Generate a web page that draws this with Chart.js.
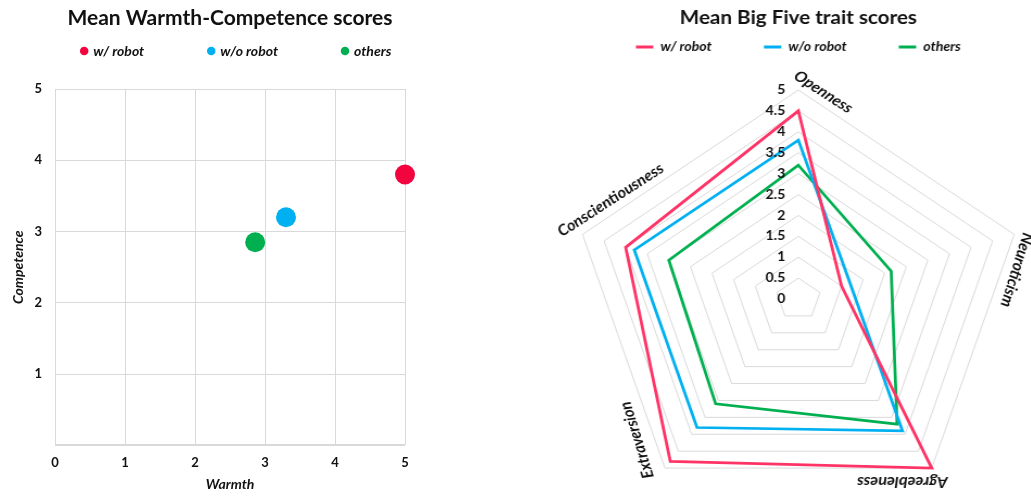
<!DOCTYPE html>
<html><head><meta charset="utf-8">
<script src="https://cdn.jsdelivr.net/npm/chart.js@4.4.1/dist/chart.umd.min.js"></script>
<style>
html,body{margin:0;padding:0;background:#fff;overflow:hidden;width:1031px;height:496px;position:relative}
#sc{position:absolute;left:0;top:0}
#rw{position:absolute;left:553.6px;top:0;width:450px;height:509px;transform:scaleX(1.086);transform-origin:0 0}
</style></head><body>
<canvas id="sc" width="470" height="496"></canvas>
<div id="rw"><canvas id="rd" width="450" height="509"></canvas></div>
<script>
// ---- data ----
const scatterSeries = ['w/ robot', 'w/o robot', 'others'];
const warmth = [5.0, 3.3, 2.86];
const competence = [3.8, 3.2, 2.85];
const scatterTicks = [0, 1, 2, 3, 4, 5];

const traits = ['Openness', 'Neuroticism', 'Agreebleness', 'Extraversion', 'Conscientiousness'];
const withRobot = [4.5, 1.0, 5.0, 4.8, 4.0];
const withoutRobot = [3.8, 1.2, 3.9, 3.8, 3.8];
const othersScores = [3.2, 2.15, 3.7, 3.1, 3.0];
const radarTicks = [0, 0.5, 1, 1.5, 2, 2.5, 3, 3.5, 4, 4.5, 5];

// ---- styles ----
const TXT = '#111111';
const GRID = '#d9d9d9';
const scatterColors = ['#F2053F', '#00B0F0', '#00B050'];
const radarColors = ['#FF3366', '#00B0F0', '#00B050'];
Chart.defaults.font.family = 'Lato, "Noto Sans", sans-serif';
Chart.defaults.color = TXT;

const shiftLegend = {
  id: 'shiftLegend',
  afterLayout(chart, args, opts) {
    const lg = chart.legend;
    if (!lg || opts.centerY == null) return;
    const lo = lg.options.labels;
    const h = lg.height;
    const top = opts.centerY - lo.padding - lo.font.size / 2;
    lg.top = top; lg.bottom = top + h;
  }
};

const radarText = {
  id: 'radarText',
  afterDraw(chart, args, opts) {
    const s = chart.scales.r, ctx = chart.ctx;
    ctx.save();
    ctx.fillStyle = TXT;
    ctx.font = 'bold 13px Lato';
    ctx.textAlign = 'right';
    ctx.textBaseline = 'middle';
    s.ticks.forEach(t => {
      const p = s.getPointPositionForValue(0, t.value);
      ctx.fillText(t.label, p.x - opts.tickGap, p.y);
    });
    ctx.font = 'italic bold 15px Lato';
    ctx.textAlign = 'center';
    chart.data.labels.forEach((lab, i) => {
      const p = s.getPointPosition(i, s.drawingArea);
      const L = opts.labels[i];
      ctx.save();
      ctx.translate(p.x + L.dx, p.y + L.dy);
      ctx.rotate(L.rot * Math.PI / 180);
      ctx.fillText(lab, 0, 0);
      ctx.restore();
    });
    ctx.restore();
  }
};

// ---- scatter ----
new Chart(document.getElementById('sc'), {
  type: 'scatter',
  data: {
    datasets: scatterSeries.map((name, i) => ({
      label: name,
      data: [{x: warmth[i], y: competence[i]}],
      backgroundColor: scatterColors[i],
      borderWidth: 0,
      pointRadius: 10,
      pointHoverRadius: 10,
      clip: false
    }))
  },
  options: {
    responsive: false, animation: false, events: [],
    layout: {padding: {left: 17.2, right: 0, top: 0, bottom: 0}},
    plugins: {
      title: {display: true, text: 'Mean Warmth-Competence scores', fullSize: false, color: TXT,
        font: {size: 21, weight: 'bold'}, padding: {top: 5.4, bottom: -31.6}},
      legend: {align: 'start', labels: {usePointStyle: true, pointStyle: 'circle', boxWidth: 4, boxHeight: 6,
        padding: 65, color: TXT, font: {size: 14, weight: 'bold', style: 'italic'}}},
      tooltip: {enabled: false},
      shiftLegend: {centerY: 51}
    },
    scales: {
      x: {type: 'linear', min: 0, max: 5,
        afterBuildTicks: a => { a.ticks = scatterTicks.map(v => ({value: v})); },
        ticks: {padding: 11, color: TXT, font: {size: 13, weight: 'bold'}},
        grid: {color: GRID, drawTicks: false}, border: {color: GRID},
        title: {display: true, text: 'Warmth', color: TXT, font: {size: 14, weight: 'bold', style: 'italic'}, padding: {top: 0, bottom: 2.6}},
        afterFit: a => { a.height = 50.7; }
      },
      y: {type: 'linear', min: 0, max: 5,
        afterBuildTicks: a => { a.ticks = scatterTicks.map(v => ({value: v})); },
        ticks: {padding: 13, color: TXT, font: {size: 13, weight: 'bold'}, callback: v => (v === 0 ? '' : String(v))},
        grid: {color: GRID, drawTicks: false}, border: {color: GRID},
        title: {display: true, text: 'Competence', color: TXT, font: {size: 14, weight: 'bold', style: 'italic'}, padding: {top: -7.1, bottom: 0}},
        afterFit: a => { a.width = 37.8; }
      },
      y2: {type: 'linear', position: 'right', display: true,
        ticks: {display: false}, grid: {display: false, drawTicks: false}, border: {display: false},
        afterFit: a => { a.width = 65; }
      }
    }
  },
  plugins: [shiftLegend]
});

// ---- radar ----
const radarSets = [withRobot, withoutRobot, othersScores];
new Chart(document.getElementById('rd'), {
  type: 'radar',
  data: {
    labels: traits,
    datasets: scatterSeries.map((name, i) => ({
      label: name, data: radarSets[i], borderColor: radarColors[i], backgroundColor: radarColors[i],
      fill: false, borderWidth: 2.75, borderJoinStyle: 'miter', pointRadius: 0, pointHoverRadius: 0, tension: 0
    }))
  },
  options: {
    responsive: false, animation: false, events: [],
    layout: {padding: 0},
    plugins: {
      title: {display: true, text: 'Mean Big Five trait scores', color: TXT, font: {size: 19, weight: 'bold'}, padding: {top: 6.6, bottom: -10.4}},
      legend: {labels: {boxWidth: 16, boxHeight: 3, padding: 48, color: TXT, font: {size: 13, weight: 'bold', style: 'italic'},
        generateLabels: c => Chart.defaults.plugins.legend.labels.generateLabels(c).map(l => Object.assign(l, {lineWidth: 0}))}},
      tooltip: {enabled: false},
      shiftLegend: {centerY: 47},
      radarText: {tickGap: 12, labels: [
        {dx: 23, dy: 2, rot: 35},
        {dx: 2.4, dy: 35.6, rot: 106},
        {dx: -27.2, dy: 13.9, rot: 180},
        {dx: -25.8, dy: -28.1, rot: -106},
        {dx: 25.8, dy: -34.4, rot: -35}
      ]}
    },
    scales: {
      r: {min: 0, max: 5,
        afterBuildTicks: a => { a.ticks = radarTicks.map(v => ({value: v})); },
        ticks: {display: false, callback: v => String(v)},
        pointLabels: {display: false},
        angleLines: {display: false},
        grid: {color: GRID, lineWidth: 1}
      }
    }
  },
  plugins: [shiftLegend, radarText]
});
</script>
</body></html>
